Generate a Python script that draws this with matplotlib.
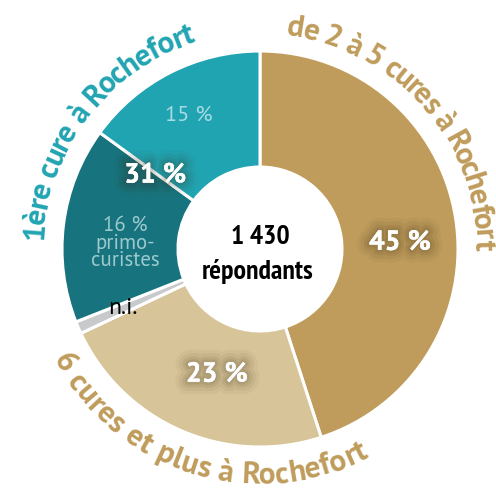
import matplotlib
matplotlib.use('Agg')
import matplotlib.pyplot as plt
import numpy as np
from matplotlib import patheffects as pe
from matplotlib.font_manager import FontProperties

# ---- data ----
categories = ['de 2 à 5 cures à Rochefort', '6 cures et plus à Rochefort', 'n.i.',
              'primo-curistes', '1ère cure (autres)']
values = [45, 23, 1, 16, 15]
colors = ['#BF9C5B', '#D7C498', '#C8C9CB', '#17737D', '#21A4B2']
pct_labels = ['45 %', '23 %', 'n.i.', '16 %\nprimo-\ncuristes', '15 %']
group_label = '31 %'
total_label = ['1 430', 'répondants']
arc_labels = ['1ère cure à Rochefort', 'de 2 à 5 cures à Rochefort', '6 cures et plus à Rochefort']

FONT = ['PT Sans', 'DejaVu Sans']
NARROW = ['PT Sans Narrow', 'Roboto Condensed', 'DejaVu Sans']

W, H = 496, 492
fig = plt.figure(figsize=(W / 100, H / 100), dpi=100)
ax = fig.add_axes([0, 0, 1, 1])

cx, cy = 260, 243
R, r_in = 198, 82
ax.pie(values, colors=colors, startangle=90, counterclock=False, radius=R,
       center=(cx, cy), frame=True,
       wedgeprops=dict(width=R - r_in, edgecolor='white', linewidth=2.2))
ax.set_xlim(0, W)
ax.set_ylim(0, H)
ax.set_aspect('auto')
ax.axis('off')


def polar(theta_deg, rad):
    t = np.deg2rad(theta_deg)
    return cx + rad * np.sin(t), cy + rad * np.cos(t)


sh = (0.22, 0.16, 0.07)
glow = [pe.Stroke(linewidth=18, foreground=sh + (0.04,)),
        pe.Stroke(linewidth=13, foreground=sh + (0.06,)),
        pe.Stroke(linewidth=8, foreground=sh + (0.08,)),
        pe.Stroke(linewidth=4, foreground=sh + (0.09,)),
        pe.Normal()]

# percent labels
x, y = polar(87.5, 140)
ax.text(x, y, pct_labels[0], ha='center', va='center', color='white', fontsize=20,
        fontweight='bold', family=FONT, path_effects=glow)
x, y = polar(199, 133)
ax.text(x, y, pct_labels[1], ha='center', va='center', color='white', fontsize=20,
        fontweight='bold', family=FONT, path_effects=glow)
x, y = polar(305, 128)
ax.text(x, y, group_label, ha='center', va='center', color='white', fontsize=20,
        fontweight='bold', family=FONT, path_effects=glow)
x, y = polar(332, 151)
ax.text(x, y, pct_labels[4], ha='center', va='center', color='#A6DCE2', fontsize=16,
        family=FONT)
x, y = polar(272.5, 135)
ax.text(x, y, pct_labels[3], ha='center', va='center', color='#9CC9CE', fontsize=15,
        family=FONT, linespacing=0.92)
x, y = polar(246.5, 150)
ax.text(x, y, pct_labels[2], ha='center', va='center', color='black', fontsize=17,
        family=FONT)

ax.text(cx, cy + 12, total_label[0], ha='center', va='center', fontsize=20,
        fontweight='bold', family=NARROW, color='black')
ax.text(cx - 2, cy - 22, total_label[1], ha='center', va='center', fontsize=20,
        fontweight='bold', family=NARROW, color='black')

renderer = fig.canvas.get_renderer()


def advances(s, prop):
    out = []
    mark = 'l'
    prev = renderer.get_text_width_height_descent(mark, prop, ismath=False)[0]
    for i in range(len(s)):
        w = renderer.get_text_width_height_descent(s[:i + 1] + mark, prop, ismath=False)[0]
        out.append(w - prev)
        prev = w
    return out


def curved(s, th_start, th_end, rad, size, color):
    """Place characters along an arc from th_start to th_end (deg, clockwise from top)."""
    prop = FontProperties(family=FONT, weight='bold', size=size)
    adv = advances(s, prop)
    total = sum(adv)
    arc = np.deg2rad(abs(th_end - th_start)) * rad
    extra = (arc - total) / max(len(s) - 1, 1)
    sign = 1 if th_end > th_start else -1
    pos = 0.0
    for ch, a in zip(s, adv):
        mid = pos + a / 2
        pos += a + extra
        th = th_start + sign * np.rad2deg(mid / rad)
        rot = -th if sign > 0 else 180 - th
        x, y = polar(th, rad)
        ax.text(x, y, ch, ha='center', va='baseline', rotation=rot,
                rotation_mode='anchor', fontproperties=prop, color=color)


curved(arc_labels[0], 272, 343, 217, 22.5, '#21A4B2')
curved(arc_labels[1], 7, 90.5, 215, 22.5, '#BF9C5B')
curved(arc_labels[2], 242, 152, 235, 22.5, '#BF9C5B')

fig.savefig('out.png', dpi=100)
